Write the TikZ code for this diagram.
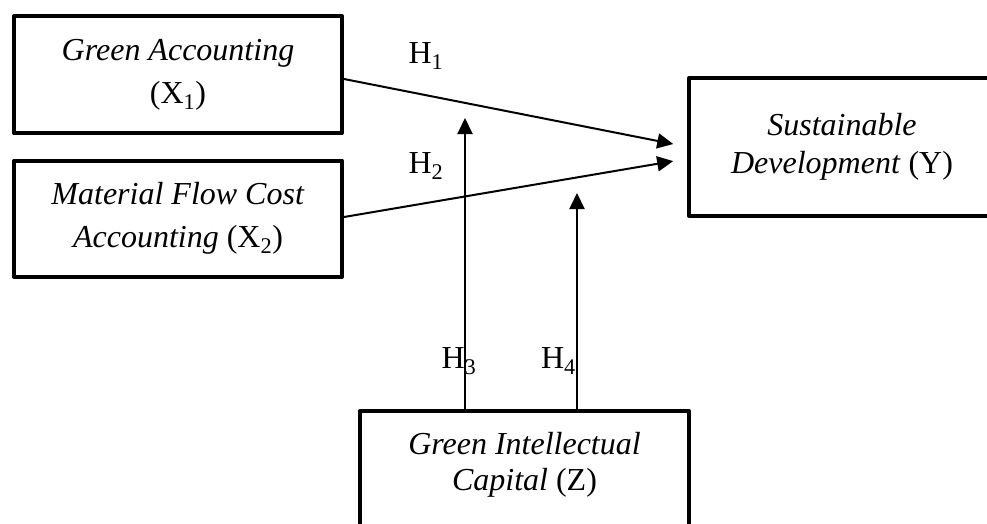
\documentclass[tikz,border=0pt]{standalone}
\usepackage{fontspec}
\setmainfont{Liberation Serif}
\usetikzlibrary{arrows.meta, calc}

\begin{document}
\begin{tikzpicture}[x=1pt, y=-1pt]
    % Styles
    \tikzstyle{block} = [rectangle, draw, line width=4pt, line join=round, align=center, inner sep=0pt, font=\fontsize{32}{43}\selectfont]
    \tikzstyle{pathline} = [draw, -{Triangle[length=16pt, width=15pt]}, line width=2pt]
    \tikzstyle{hlabel} = [inner sep=0pt, font=\fontsize{32}{38}\selectfont]

    \path [use as bounding box, clip] (0,0) rectangle (987,524);

    % Nodes
    \node [block, minimum width=328pt, minimum height=117pt] (ga) at (178,74.5) {\textit{Green Accounting}\\(X\textsubscript{1})};
    \node [block, minimum width=328pt, minimum height=116pt] (mfca) at (178,218.5) {\textit{Material Flow Cost}\\\textit{Accounting} (X\textsubscript{2})};
    \node [block, minimum width=306pt, minimum height=137.5pt, font=\fontsize{32}{38.5}\selectfont] (sd) at (842,146.75) {\textit{Sustainable}\\\textit{Development} (Y)};
    \node [block, minimum width=329pt, minimum height=117pt, text depth=17pt, font=\fontsize{32}{36}\selectfont] (gic) at (524.5,469.5) {\textit{Green Intellectual}\\\textit{Capital} (Z)};

    % Arrow ends of the moderating paths
    \coordinate (mthree) at (465,118);
    \coordinate (mfour) at (577,193);

    % Paths: direct effects
    \draw [pathline, shorten >=14pt] ([yshift=-4.5pt]ga.east) -- (sd.west);
    \draw [pathline, shorten >=14pt] ([yshift=1.5pt]mfca.east) -- ([yshift=-12pt]sd.west);

    % Paths: moderation
    \draw [pathline] (gic.north -| mthree) -- (mthree);
    \draw [pathline] (gic.north -| mfour) -- (mfour);

    % Labels
    \node [hlabel] (hone) at (426,56) {H\textsubscript{1}};
    \node [hlabel] (htwo) at (426,166) {H\textsubscript{2}};
    \node [hlabel] (hthree) at (459,361) {H\textsubscript{3}};
    \node [hlabel] (hfour) at (558.5,361) {H\textsubscript{4}};

\end{tikzpicture}
\end{document}
